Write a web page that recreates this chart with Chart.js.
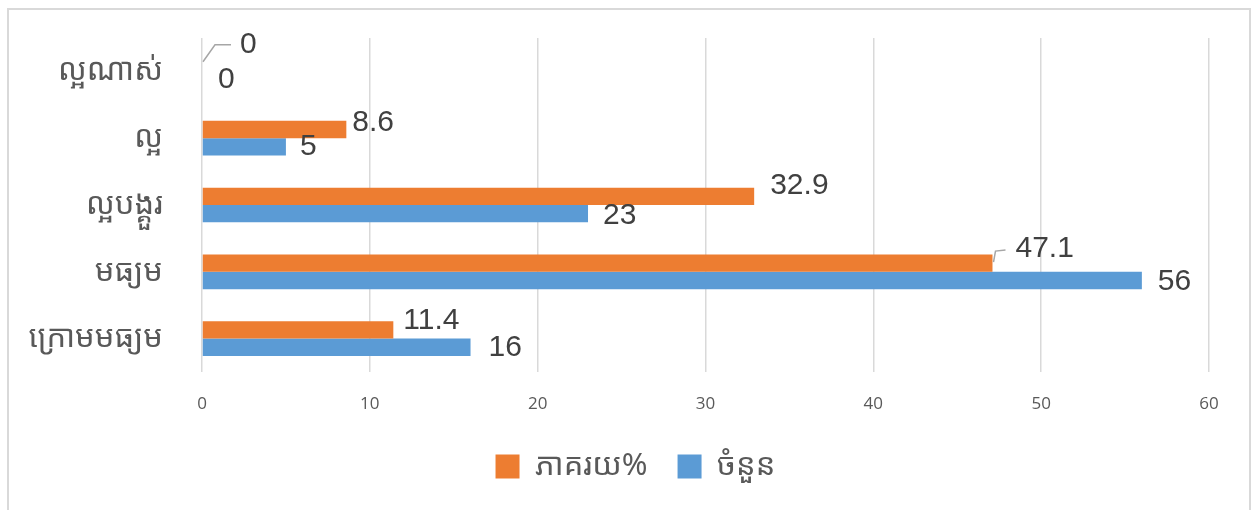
<!DOCTYPE html>
<html>
<head>
<meta charset="utf-8">
<script src="https://cdn.jsdelivr.net/npm/chart.js@4.4.1/dist/chart.umd.min.js"></script>
<style>
  html, body { margin: 0; padding: 0; background: #fff; }
  #wrap { width: 1257px; height: 510px; position: relative; }
</style>
</head>
<body>
<div id="wrap"><canvas id="chart" width="1257" height="510"></canvas></div>
<script>
const categories = ["ល្អណាស់", "ល្អ", "ល្អបង្គួរ", "មធ្យម", "ក្រោមមធ្យម"];
const percentValues = [0, 8.6, 32.9, 47.1, 11.4];
const countValues = [0, 5, 23, 56, 16];
const seriesNames = ["ភាគរយ%", "ចំនួន"];
const xTicks = [0, 10, 20, 30, 40, 50, 60];

const khmerFont = "'Noto Sans Khmer', 'Khmer OS', 'Khmer OS System', 'Noto Sans', sans-serif";

// where Excel put each value label, relative to the end of its bar
const labelNudge = [
  [[38, -18], [6, -7], [16, -11], [23, -14], [10, -9]],
  [[16, 0], [14, 0], [15, 2], [16, 1], [18, 0]],
];

const frame = {
  id: "frame",
  beforeDraw(chart) {
    const ctx = chart.ctx;
    ctx.save();
    ctx.strokeStyle = "#d9d9d9";
    ctx.lineWidth = 2;
    ctx.strokeRect(8, 9, 1242, 520);
    ctx.restore();
  },
  // centre the legend on the whole picture, not on the left part
  afterLayout(chart) {
    chart.legend.left += 62;
  },
};

const valueLabels = {
  id: "valueLabels",
  afterDatasetsDraw(chart) {
    const ctx = chart.ctx;
    ctx.save();
    ctx.font = "30px 'Liberation Sans', Arial, sans-serif";
    ctx.fillStyle = "#404040";
    ctx.textBaseline = "middle";
    ctx.textAlign = "left";
    chart.data.datasets.forEach((ds, di) => {
      chart.getDatasetMeta(di).data.forEach((bar, i) => {
        const [dx, dy] = labelNudge[di][i];
        const x = bar.x + dx;
        const y = bar.y + dy;
        ctx.fillText(String(ds.data[i]), x, y);
        // leader lines where the label was pulled away from the bar
        if (di === 0 && (i === 0 || i === 3)) {
          ctx.strokeStyle = "#a6a6a6";
          ctx.lineWidth = 1.5;
          ctx.beginPath();
          if (i === 0) {
            ctx.moveTo(bar.x + 1, bar.y - 1);
            ctx.lineTo(bar.x + 13, y);
            ctx.lineTo(x - 9, y);
          } else {
            ctx.moveTo(bar.x + 1, bar.y - 1);
            ctx.lineTo(bar.x + 3, y + 2);
            ctx.lineTo(x - 10, y + 1);
          }
          ctx.stroke();
        }
      });
    });
    ctx.restore();
  },
};

new Chart(document.getElementById("chart"), {
  type: "bar",
  data: {
    labels: categories,
    datasets: [
      {
        label: seriesNames[0],
        data: percentValues,
        backgroundColor: "#ED7D31",
        categoryPercentage: 0.52,
        barPercentage: 1,
      },
      {
        label: seriesNames[1],
        data: countValues,
        backgroundColor: "#5B9BD5",
        categoryPercentage: 0.52,
        barPercentage: 1,
      },
    ],
  },
  options: {
    indexAxis: "y",
    responsive: false,
    animation: false,
    layout: { padding: { top: 38, right: 48, left: 0, bottom: 18 } },
    plugins: {
      tooltip: { enabled: false },
      legend: {
        position: "bottom",
        labels: {
          boxWidth: 24,
          boxHeight: 24,
          padding: 30,
          color: "#595959",
          font: { family: khmerFont, size: 31 },
        },
      },
    },
    scales: {
      x: {
        min: 0,
        max: 60,
        afterBuildTicks: (scale) => {
          scale.ticks = xTicks.map((v) => ({ value: v }));
        },
        afterFit: (scale) => {
          scale.height = 49;
          scale.paddingLeft = 0;
          scale.paddingRight = 0;
        },
        grid: { color: "#d9d9d9", lineWidth: 1.5, drawTicks: false },
        border: { display: false },
        ticks: {
          padding: 22,
          color: "#595959",
          font: { family: "'Open Sans', sans-serif", size: 17 },
        },
      },
      y: {
        afterFit: (scale) => {
          scale.width = 202;
          scale.paddingTop = 0;
          scale.paddingBottom = 0;
        },
        grid: { display: false, drawTicks: false },
        border: { display: false },
        ticks: {
          padding: 39,
          color: "#595959",
          font: { family: khmerFont, size: 31 },
        },
      },
    },
  },
  plugins: [frame, valueLabels],
});
</script>
</body>
</html>
